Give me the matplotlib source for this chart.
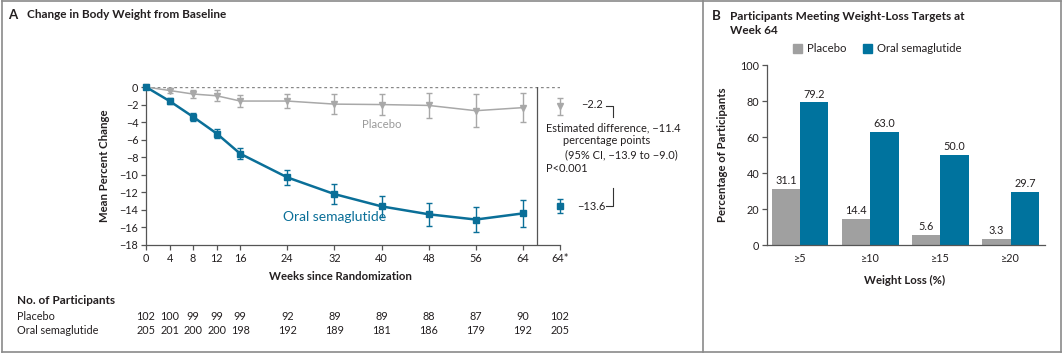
import matplotlib
matplotlib.use("Agg")
import matplotlib.pyplot as plt
from matplotlib import transforms
from matplotlib.lines import Line2D
from matplotlib.patches import Rectangle

plt.rcParams['font.family'] = ['Lato', 'DejaVu Sans']

# ---------------- data ----------------
weeks = [0, 4, 8, 12, 16, 24, 32, 40, 48, 56, 64]
week_labels = ["0", "4", "8", "12", "16", "24", "32", "40", "48", "56", "64"]
final_label = "64*"
placebo_mean = [0, -0.4, -0.8, -1.0, -1.6, -1.6, -1.95, -2.0, -2.1, -2.7, -2.35]
placebo_err = [0, 0.3, 0.47, 0.63, 0.7, 0.8, 1.1, 1.2, 1.45, 1.9, 1.65]
sema_mean = [0, -1.6, -3.4, -5.3, -7.6, -10.3, -12.2, -13.6, -14.5, -15.1, -14.4]
sema_err = [0, 0.3, 0.45, 0.55, 0.63, 0.85, 1.1, 1.23, 1.33, 1.45, 1.5]
placebo_final, placebo_final_err = -2.2, 1.0
sema_final, sema_final_err = -13.6, 0.8

n_placebo = [102, 100, 99, 99, 99, 92, 89, 89, 88, 87, 90, 102]
n_sema = [205, 201, 200, 200, 198, 192, 189, 181, 186, 179, 192, 205]

targets = ["≥5", "≥10", "≥15", "≥20"]
bar_placebo = [31.1, 14.4, 5.6, 3.3]
bar_sema = [79.2, 63.0, 50.0, 29.7]

BLUE = "#0a6f98"
BAR_BLUE = "#00739e"
GRAY = "#a8a8a8"
BAR_GRAY = "#a0a0a0"
TXT = "#231f20"

W, H = 1064, 355
fig = plt.figure(figsize=(W / 100, H / 100), dpi=100)

def fx(px):
    return px / W

def fy(py):
    return 1 - py / H

# ---------------- frame ----------------
for (x0, y0, x1, y1) in [(2, 1, 1061, 1), (2, 352, 1061, 352), (2, 1, 2, 352),
                         (1061, 1, 1061, 352), (703, 1, 703, 352)]:
    fig.add_artist(Line2D([fx(x0), fx(x1)], [fy(y0), fy(y1)], color="#8a8a8a", lw=1.2))

# ---------------- Panel A ----------------
x_final = 70.3
axA = fig.add_axes([fx(146), fy(245), fx(560) - fx(146), fy(87) - fy(245)])
axA.set_xlim(0, x_final)
axA.set_ylim(-18, 0)
for s in ["top", "right"]:
    axA.spines[s].set_visible(False)
for s in ["left", "bottom"]:
    axA.spines[s].set_color("#555555")
    axA.spines[s].set_linewidth(0.9)

axA.axhline(0, color="#888888", lw=1, ls=(0, (2, 2)), zorder=1)
axA.axvline(66.4, color="#555555", lw=0.9, zorder=1)

axA.errorbar(weeks, placebo_mean, yerr=placebo_err, color=GRAY, lw=1.1, marker="v",
             ms=4.5, capsize=2.5, elinewidth=1, capthick=1, clip_on=False, zorder=3)
axA.errorbar(weeks, sema_mean, yerr=sema_err, color=BLUE, lw=1.8, marker="s",
             ms=4.5, capsize=2.5, elinewidth=1, capthick=1, ecolor=BLUE, clip_on=False, zorder=4)
axA.errorbar([x_final], [placebo_final], yerr=[placebo_final_err], color=GRAY, marker="v",
             ms=4.5, capsize=2.5, elinewidth=1, capthick=1, clip_on=False, zorder=3)
axA.errorbar([x_final], [sema_final], yerr=[sema_final_err], color=BLUE, marker="s",
             ms=4.5, capsize=2.5, elinewidth=1, capthick=1, clip_on=False, zorder=4)

axA.set_xticks(weeks + [x_final])
axA.set_xticklabels(week_labels + [final_label])
yt = list(range(0, -19, -2))
axA.set_yticks(yt)
axA.set_yticklabels([str(v).replace("-", "\u2212") for v in yt])
axA.tick_params(axis="both", labelsize=7.8, colors=TXT, length=3.5, width=0.9, pad=2)
axA.tick_params(axis="both", color="#555555")

axA.text(40, -4.3, "Placebo", color="#9a9a9a", fontsize=8.2, ha="center", va="center")
axA.text(32, -14.8, "Oral semaglutide", color=BLUE, fontsize=10, ha="center", va="center")

def ftext(px, py, s, **kw):
    fig.text(fx(px), fy(py), s, fontsize=7.9, color=TXT, va="center", **kw)

ftext(581, 104, "\u22122.2")
ftext(577, 207, "\u221213.6")
ftext(546, 128, "Estimated difference, \u221211.4")
ftext(563, 141, "percentage points")
ftext(565, 155, "(95% CI, \u221213.9 to \u22129.0)")
ftext(546, 168, "P<0.001")
fig.add_artist(Line2D([fx(606), fx(613), fx(613)], [fy(106), fy(106), fy(117)], color="#333333", lw=0.8))
fig.add_artist(Line2D([fx(613), fx(613), fx(606)], [fy(188), fy(206), fy(206)], color="#333333", lw=0.8))

fig.text(fx(8), fy(15), "A", fontsize=9.5, fontweight="bold", color=TXT, va="center")
fig.text(fx(27), fy(15), "Change in Body Weight from Baseline", fontsize=8.5, fontweight="bold",
         color=TXT, va="center")
fig.text(fx(104), fy(166), "Mean Percent Change", fontsize=8.2, fontweight="bold", color=TXT,
         rotation=90, ha="center", va="center")
fig.text(fx(340), fy(277), "Weeks since Randomization", fontsize=8.2, fontweight="bold", color=TXT,
         ha="center", va="center")

# participants table
tr = transforms.blended_transform_factory(axA.transData, fig.transFigure)
fig.text(fx(17), fy(300), "No. of Participants", fontsize=8.5, fontweight="bold", color=TXT, va="center")
fig.text(fx(17), fy(316), "Placebo", fontsize=7.8, color=TXT, va="center")
fig.text(fx(17), fy(330), "Oral semaglutide", fontsize=7.8, color=TXT, va="center")
for xw, a, b in zip(weeks + [x_final], n_placebo, n_sema):
    axA.text(xw, fy(316), str(a), transform=tr, fontsize=7.8, color=TXT, ha="center", va="center")
    axA.text(xw, fy(330), str(b), transform=tr, fontsize=7.8, color=TXT, ha="center", va="center")

# ---------------- Panel B ----------------
axB = fig.add_axes([fx(767), fy(245), fx(1045) - fx(767), fy(65) - fy(245)])
xs = list(range(len(targets)))
bw = 0.405
axB.bar([x - bw / 2 for x in xs], bar_placebo, width=bw, color=BAR_GRAY)
axB.bar([x + bw / 2 for x in xs], bar_sema, width=bw, color=BAR_BLUE)
for x, v in zip(xs, bar_placebo):
    axB.annotate(f"{v:.1f}", (x - bw / 2, v), xytext=(0, 2), textcoords="offset points",
                 ha="center", va="bottom", fontsize=7.8, color=TXT)
for x, v in zip(xs, bar_sema):
    axB.annotate(f"{v:.1f}", (x + bw / 2, v), xytext=(0, 2), textcoords="offset points",
                 ha="center", va="bottom", fontsize=7.8, color=TXT)
axB.set_xlim(-0.47, 3.49)
axB.set_ylim(0, 100)
axB.set_xticks(xs)
axB.set_xticklabels(targets)
axB.set_yticks([0, 20, 40, 60, 80, 100])
axB.tick_params(axis="x", length=0, labelsize=7.8, colors=TXT, pad=6)
axB.tick_params(axis="y", length=3.5, width=0.9, labelsize=7.8, colors=TXT, pad=2)
axB.tick_params(axis="y", color="#555555")
for s in ["top", "right"]:
    axB.spines[s].set_visible(False)
for s in ["left", "bottom"]:
    axB.spines[s].set_color("#555555")
    axB.spines[s].set_linewidth(0.9)

fig.text(fx(712), fy(16), "B", fontsize=9.5, fontweight="bold", color=TXT, va="center")
fig.text(fx(730), fy(16), "Participants Meeting Weight-Loss Targets at", fontsize=8.5,
         fontweight="bold", color=TXT, va="center")
fig.text(fx(730), fy(30), "Week 64", fontsize=8.5, fontweight="bold", color=TXT, va="center")
fig.text(fx(723), fy(155), "Percentage of Participants", fontsize=8.2, fontweight="bold", color=TXT,
         rotation=90, ha="center", va="center")
fig.text(fx(905), fy(280), "Weight Loss (%)", fontsize=8.2, fontweight="bold", color=TXT,
         ha="center", va="center")

# legend
fig.add_artist(Rectangle((fx(793), fy(53)), fx(9), 9 / H, color=BAR_GRAY, transform=fig.transFigure))
fig.text(fx(807), fy(48), "Placebo", fontsize=8.2, color=TXT, va="center")
fig.add_artist(Rectangle((fx(863), fy(53)), fx(9), 9 / H, color=BAR_BLUE, transform=fig.transFigure))
fig.text(fx(877), fy(48), "Oral semaglutide", fontsize=8.2, color=TXT, va="center")

fig.savefig("out.png", dpi=100)
